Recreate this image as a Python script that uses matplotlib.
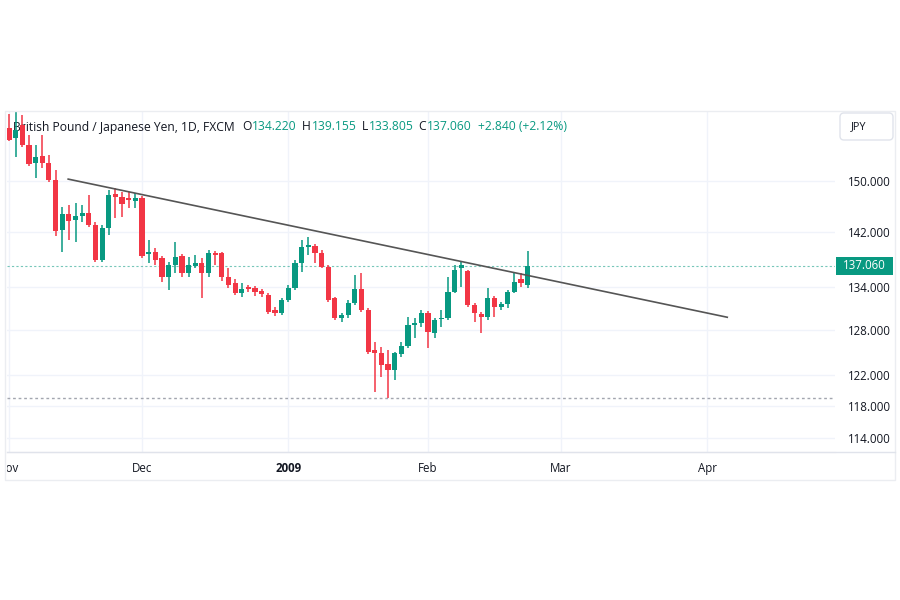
import numpy as np
import matplotlib.pyplot as plt
from matplotlib.patches import FancyBboxPatch, Rectangle
from matplotlib.transforms import Bbox, IdentityTransform
from matplotlib.ticker import FixedLocator, NullLocator

plt.rcParams['font.family'] = ['Open Sans', 'DejaVu Sans']

# GBPJPY daily candles, Nov 2008 - Feb 2009
opens = [158.7, 157.0, 159.2, 155.9, 152.9, 154.1, 152.9, 150.2, 142.4, 144.8,
         143.9, 144.5, 145.0, 143.1, 137.9, 142.7, 147.9, 147.5, 147.3, 146.9,
         147.3, 138.8, 139.1, 138.2, 135.4, 137.2, 138.5, 136.0, 137.0, 137.4,
         136.0, 138.9, 138.9, 135.4, 134.5, 133.1, 134.0, 133.8, 133.4, 132.8,
         130.7, 130.3, 132.1, 133.8, 137.4, 139.8, 140.0, 138.9, 136.8, 132.4,
         129.6, 130.0, 131.7, 133.7, 130.7, 125.2, 124.9, 123.4, 122.6, 124.7,
         125.8, 128.6, 128.9, 130.3, 127.5, 129.5, 129.6, 133.2, 136.7, 136.3,
         131.4, 130.2, 129.7, 132.4, 131.1, 131.6, 133.2, 135.1, 134.22]
highs = [161.1, 161.6, 161.0, 157.6, 155.9, 157.6, 154.2, 151.8, 145.9, 146.2,
         146.5, 146.2, 147.8, 143.6, 143.1, 148.6, 148.9, 148.3, 148.3, 148.1,
         147.6, 140.9, 139.6, 138.5, 137.6, 140.5, 138.8, 138.3, 138.6, 138.2,
         139.4, 139.2, 139.1, 136.7, 135.1, 134.5, 134.2, 134.1, 133.7, 133.1,
         131.1, 132.4, 134.2, 137.9, 140.9, 141.3, 140.3, 139.4, 137.2, 132.5,
         130.3, 132.1, 135.7, 136.0, 131.0, 126.3, 125.6, 125.2, 125.0, 126.3,
         129.7, 129.6, 130.7, 130.6, 129.6, 130.7, 135.4, 137.2, 137.6, 136.4,
         131.7, 130.4, 133.8, 132.7, 131.8, 133.5, 136.1, 135.9, 139.155]
lows = [156.5, 153.9, 155.6, 152.4, 150.5, 152.1, 149.9, 141.4, 139.1, 140.8,
        140.5, 143.6, 142.8, 137.6, 137.6, 141.6, 144.2, 144.4, 145.7, 145.7,
        138.2, 137.4, 137.2, 134.7, 133.5, 136.0, 135.4, 135.4, 136.7, 132.4,
        135.4, 137.2, 134.8, 133.8, 132.8, 132.5, 133.2, 132.7, 132.5, 130.2,
        129.9, 130.0, 131.8, 133.5, 136.1, 138.6, 137.4, 136.7, 131.8, 129.3,
        129.0, 129.6, 131.4, 130.4, 124.7, 119.8, 121.7, 119.0, 121.3, 124.3,
        125.5, 126.9, 128.4, 125.5, 126.9, 128.4, 129.3, 133.1, 134.0, 131.1,
        129.0, 127.5, 129.3, 129.7, 130.7, 131.0, 133.1, 133.9, 133.805]
closes = [156.7, 158.4, 155.9, 152.7, 153.9, 152.9, 150.2, 142.2, 144.8, 143.7,
          144.5, 145.0, 143.1, 137.9, 142.7, 147.8, 147.5, 146.4, 147.0, 147.3,
          138.5, 139.1, 137.9, 135.4, 137.2, 138.3, 136.0, 137.2, 137.4, 136.0,
          138.9, 138.6, 135.4, 134.2, 133.1, 133.7, 133.7, 133.2, 133.0, 130.4,
          130.3, 132.1, 133.8, 137.4, 139.8, 140.1, 138.9, 136.8, 132.1, 129.6,
          130.0, 131.7, 133.7, 130.7, 125.0, 124.9, 123.3, 122.6, 124.9, 125.8,
          128.6, 128.9, 130.3, 127.7, 129.3, 129.6, 133.2, 136.4, 137.2, 131.4,
          130.3, 129.7, 132.4, 131.1, 131.6, 133.2, 134.7, 134.5, 137.06]

month_pos = [0, 20, 42, 63, 83, 105]
month_labels = ['Nov', 'Dec', '2009', 'Feb', 'Mar', 'Apr']
price_ticks = [114, 118, 122, 128, 134, 142, 150]

trend_x = [8.9, 108.0]
trend_y = [150.3, 129.7]
support_level = 119.0

up_color = '#089981'
down_color = '#f23645'
text_color = '#131722'
grid_color = '#f0f3fa'
border_color = '#e0e3eb'

fig = plt.figure(figsize=(9, 6), dpi=100)
ax = fig.add_axes([7 / 900, 148 / 600, 828 / 900, 341 / 600])
ax.set_yscale('log')
ax.set_ylim(112.33, 161.63)
ax.set_xlim(-0.3, 124.2)

x = np.arange(len(opens))
o = np.array(opens)
h = np.array(highs)
l = np.array(lows)
c = np.array(closes)
colors = np.where(c >= o, up_color, down_color)

ax.vlines(x, l, h, colors=colors, lw=1.1, zorder=3)
ax.bar(x, np.maximum(np.abs(c - o), 0.15), bottom=np.minimum(o, c), width=0.78,
       color=colors, linewidth=0, zorder=4)

ax.plot(trend_x, trend_y, color='#555555', lw=1.2, zorder=5)
ax.axhline(support_level, color='#a3a6af', lw=1, ls=(0, (2, 2)), zorder=2)
ax.axhline(closes[-1], color=up_color, lw=0.8, ls=(0, (2, 2)), alpha=0.55, zorder=2)

# axes styling
ax.yaxis.set_major_locator(FixedLocator(price_ticks))
ax.yaxis.set_minor_locator(NullLocator())
ax.yaxis.set_major_formatter(lambda v, pos: f'{v:.3f}')
ax.yaxis.tick_right()
ax.tick_params(axis='y', length=0, pad=9, labelsize=8.3, labelcolor=text_color)
ax.set_xticks(month_pos, month_labels)
ax.tick_params(axis='x', length=0, pad=7, labelsize=8.3, labelcolor=text_color)
ax.get_xticklabels()[2].set_fontweight('bold')
ax.grid(True, color=grid_color, lw=1)
ax.set_axisbelow(True)
for side in ['top', 'left', 'right']:
    ax.spines[side].set_visible(False)
ax.spines['bottom'].set_color(border_color)

# first month label is cut by the left edge of the chart
nov = ax.xaxis.get_major_ticks()[0].label1
nov.set_clip_on(True)
nov.set_clip_box(Bbox.from_extents(7, 0, 900, 600))

# outer frame of the screenshot
fig.add_artist(Rectangle((5, 120), 890, 369, transform=IdentityTransform(),
                         fill=False, ec='#ebedf1', lw=1))
fig.add_artist(plt.Line2D([7, 895], [148, 148], transform=IdentityTransform(),
                          color=border_color, lw=1))

# legend line at the top
hdr_y = 1 - 127 / 600
chg = closes[-1] - opens[-1]
pieces = [
    (13, 'British Pound / Japanese Yen, 1D, FXCM', text_color),
    (242, 'O', text_color), (252, f'{opens[-1]:.3f}', up_color),
    (302, 'H', text_color), (312, f'{highs[-1]:.3f}', up_color),
    (362, 'L', text_color), (369, f'{lows[-1]:.3f}', up_color),
    (418, 'C', text_color), (427, f'{closes[-1]:.3f}', up_color),
    (478, f'+{chg:.3f} (+{chg / opens[-1] * 100:.2f}%)', up_color),
]
for px, s, col in pieces:
    ax.text(px / 900, hdr_y, s, transform=fig.transFigure, color=col,
            fontsize=8.7, va='center', ha='left', zorder=1)

# currency box
fig.add_artist(FancyBboxPatch((840, 460), 53, 27, boxstyle='round,pad=0,rounding_size=4',
                              transform=IdentityTransform(), fc='white', ec=border_color, lw=1))
fig.text(851 / 900, 1 - 127 / 600, 'JPY', fontsize=7.8, color=text_color, va='center')

# last price label
yp = ax.transData.transform((0, closes[-1]))[1]
fig.add_artist(Rectangle((836, yp - 9), 57, 18, transform=IdentityTransform(),
                         fc=up_color, ec='none'))
fig.text(864.5 / 900, yp / 600, f'{closes[-1]:.3f}', color='white', fontsize=8.3,
         ha='center', va='center')

fig.savefig('out.png', dpi=100)
